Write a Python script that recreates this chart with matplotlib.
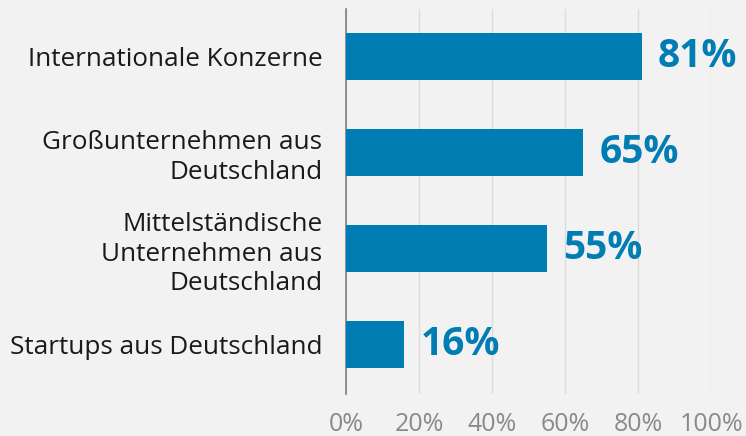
import numpy as np
import matplotlib.pyplot as plt

categories = ['Internationale Konzerne',
              'Großunternehmen aus\nDeutschland',
              'Mittelständische\nUnternehmen aus\nDeutschland',
              'Startups aus Deutschland']
values = [0.81, 0.65, 0.55, 0.16]
xticks = [0, 0.2, 0.4, 0.6, 0.8, 1.0]
xtick_labels = ['0%', '20%', '40%', '60%', '80%', '100%']

bg = '#f2f2f2'
blue = '#007db3'

plt.rcParams['font.family'] = ['Open Sans', 'DejaVu Sans']

fig = plt.figure(figsize=(7.46, 4.36), dpi=100, facecolor=bg)
ax = fig.add_axes([346 / 746, 1 - 394 / 436, 365 / 746, 385 / 436], facecolor=bg)

y = np.arange(len(categories))
ax.barh(y, values, height=0.49, color=blue, zorder=3)
for yi, v in zip(y, values):
    ax.text(v + 0.045, yi, '{:.0f}%'.format(v * 100), va='center', ha='left',
            color=blue, fontsize=28, fontweight='bold', zorder=4)

ax.set_xlim(0, 1)
ax.set_ylim(3.51, -0.49)
ax.set_yticks(y)
ax.set_yticklabels(categories, fontsize=18.8, color='#1a1a1a', linespacing=1.25)
ax.set_xticks(xticks)
ax.set_xticklabels(xtick_labels, fontsize=18, color='#8a8a8a')
ax.tick_params(axis='y', length=0, pad=17)
ax.tick_params(axis='x', length=0, pad=13)
ax.grid(axis='x', color='#dcdcdc', linewidth=1, zorder=0)
for s in ['top', 'right', 'bottom']:
    ax.spines[s].set_visible(False)
ax.spines['left'].set_color('#7f7f7f')
ax.spines['left'].set_linewidth(1.2)

plt.savefig('out.png', dpi=100, facecolor=bg)
